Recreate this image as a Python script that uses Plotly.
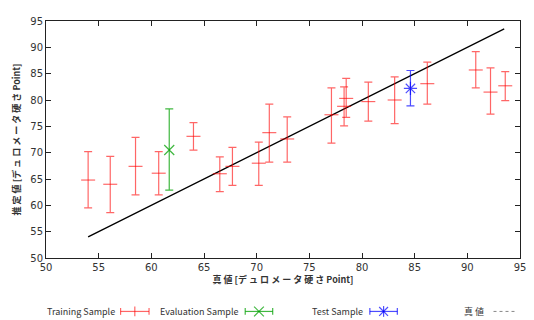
import plotly.graph_objects as go

# ---------------- data ----------------
train_x = [54.0, 56.1, 58.5, 60.7, 64.0, 66.5, 67.7, 70.2, 71.2, 72.9,
           77.1, 78.3, 78.5, 80.6, 83.1, 86.2, 90.8, 92.2, 93.6]
train_y = [64.8, 64.0, 67.4, 66.1, 73.1, 66.0, 67.4, 68.0, 73.8, 72.6,
           77.2, 78.8, 80.3, 79.7, 80.0, 83.1, 85.7, 81.5, 82.7]
train_hi = [70.2, 69.3, 72.9, 70.2, 75.7, 69.2, 71.0, 72.0, 79.2, 76.8,
            82.3, 82.5, 84.1, 83.4, 84.4, 87.2, 89.2, 86.1, 85.4]
train_lo = [59.5, 58.6, 62.0, 62.0, 70.5, 62.6, 63.8, 63.8, 68.2, 68.2,
            71.8, 75.1, 76.7, 76.0, 75.5, 79.2, 82.3, 77.3, 79.9]

eval_x = [61.7]
eval_y = [70.5]
eval_hi = [78.3]
eval_lo = [62.9]

test_x = [84.6]
test_y = [82.2]
test_hi = [85.6]
test_lo = [78.9]

true_x = [54.0, 93.5]
true_y = [54.0, 93.5]

x_ticks = [50, 55, 60, 65, 70, 75, 80, 85, 90, 95]
y_ticks = [50, 55, 60, 65, 70, 75, 80, 85, 90, 95]

legend_names = ["Training Sample", "Evaluation Sample", "Test Sample", "真 値"]
x_title = "真 値 [デ ュ ロ メ ー タ 硬 さ Point]"
y_title = "推 定 値 [デ ュ ロ メ ー タ 硬 さ Point]"

RED = "rgba(255,0,0,0.6)"
GREEN = "rgba(0,160,0,0.75)"
BLUE = "rgba(0,0,255,0.7)"

# page body has an 8px default margin: work in figure coordinates
OFF = 8
W, H = 534 - OFF, 320 - OFF


def err(y, hi, lo):
    return ([h - v for h, v in zip(hi, y)], [v - l for v, l in zip(y, lo)])


fig = go.Figure()

fig.add_trace(go.Scatter(x=true_x, y=true_y, mode="lines",
                         line=dict(color="black", width=1.3), showlegend=False))

up, dn = err(train_y, train_hi, train_lo)
fig.add_trace(go.Scatter(
    x=train_x, y=train_y, mode="markers",
    marker=dict(symbol="line-ew", size=10, line=dict(color=RED, width=1.2)),
    error_y=dict(type="data", symmetric=False, array=up, arrayminus=dn,
                 color=RED, thickness=1.2, width=4),
    showlegend=False))

up, dn = err(eval_y, eval_hi, eval_lo)
fig.add_trace(go.Scatter(
    x=eval_x, y=eval_y, mode="markers",
    marker=dict(symbol="x-thin", size=10, line=dict(color=GREEN, width=1.2)),
    error_y=dict(type="data", symmetric=False, array=up, arrayminus=dn,
                 color=GREEN, thickness=1.2, width=4),
    showlegend=False))

up, dn = err(test_y, test_hi, test_lo)
fig.add_trace(go.Scatter(
    x=test_x, y=test_y, mode="markers",
    marker=dict(symbol="asterisk", size=11, line=dict(color=BLUE, width=1.2)),
    error_y=dict(type="data", symmetric=False, array=up, arrayminus=dn,
                 color=BLUE, thickness=1.2, width=4),
    showlegend=False))

# ---------------- custom legend (text left of glyph) ----------------
# plot-area edges in window pixels
PL, PR, PT, PB = 42, 525, 15.7, 258.3


def px(xp):
    return (xp - PL) / (PR - PL)


def py(yp):
    return (PB - yp) / (PB - PT)


LY = 313
text_right = [114, 240, 367, 490]
glyph = [(118, 147, RED, "plus"), (245, 273, GREEN, "x"), (372, 400, BLUE, "ast"),
         (498, 522, "#888", "dot")]
annotations = []
shapes = []
for name, xr, (g0, g1, col, kind) in zip(legend_names, text_right, glyph):
    annotations.append(dict(x=px(xr), y=py(LY), xref="paper", yref="paper",
                            text=name, showarrow=False, xanchor="right", yanchor="middle",
                            font=dict(family="Noto Sans CJK JP, DejaVu Sans", size=9, color="#333")))
    if kind == "dot":
        shapes.append(dict(type="line", xref="paper", yref="paper",
                           x0=px(g0), x1=px(g1), y0=py(LY), y1=py(LY),
                           line=dict(color=col, width=1, dash="dot")))
        continue
    shapes.append(dict(type="line", xref="paper", yref="paper",
                       x0=px(g0), x1=px(g1), y0=py(LY), y1=py(LY),
                       line=dict(color=col, width=1.2)))
    for gx in (g0, g1):
        shapes.append(dict(type="line", xref="paper", yref="paper",
                           x0=px(gx), x1=px(gx), y0=py(LY - 3.5), y1=py(LY + 3.5),
                           line=dict(color=col, width=1.2)))
    cx = (g0 + g1) / 2
    if kind == "plus":
        shapes.append(dict(type="line", xref="paper", yref="paper",
                           x0=px(cx), x1=px(cx), y0=py(LY - 5), y1=py(LY + 5),
                           line=dict(color=col, width=1.2)))
    elif kind == "x":
        for s in (1, -1):
            shapes.append(dict(type="line", xref="paper", yref="paper",
                               x0=px(cx - 5), x1=px(cx + 5), y0=py(LY - 5 * s), y1=py(LY + 5 * s),
                               line=dict(color=col, width=1.2)))
    else:
        shapes.append(dict(type="line", xref="paper", yref="paper",
                           x0=px(cx), x1=px(cx), y0=py(LY - 5.5), y1=py(LY + 5.5),
                           line=dict(color=col, width=1.2)))
        for s in (1, -1):
            shapes.append(dict(type="line", xref="paper", yref="paper",
                               x0=px(cx - 4.5), x1=px(cx + 4.5), y0=py(LY - 4.5 * s), y1=py(LY + 4.5 * s),
                               line=dict(color=col, width=1.2)))

axis_common = dict(showgrid=False, zeroline=False, showline=True, linecolor="#222",
                   linewidth=1, mirror="allticks", ticks="inside", ticklen=5,
                   tickcolor="#222", tickwidth=1,
                   tickfont=dict(family="DejaVu Sans", size=10, color="#333"))

fig.update_layout(
    width=W, height=H,
    margin=dict(l=PL - OFF, r=534 - PR, t=PT - OFF, b=320 - PB),
    plot_bgcolor="white", paper_bgcolor="white",
    showlegend=False,
    xaxis=dict(range=[50, 95], tickvals=x_ticks,
               title=dict(text="<b>" + x_title + "</b>", standoff=4,
                          font=dict(family="Noto Sans CJK JP", size=9, color="#333")),
               **axis_common),
    yaxis=dict(range=[50, 95], tickvals=y_ticks,
               title=dict(text="<b>" + y_title + "</b>", standoff=8,
                          font=dict(family="Noto Sans CJK JP", size=9, color="#333")),
               **axis_common),
    annotations=annotations,
    shapes=shapes,
)

fig.write_html("out.html")
